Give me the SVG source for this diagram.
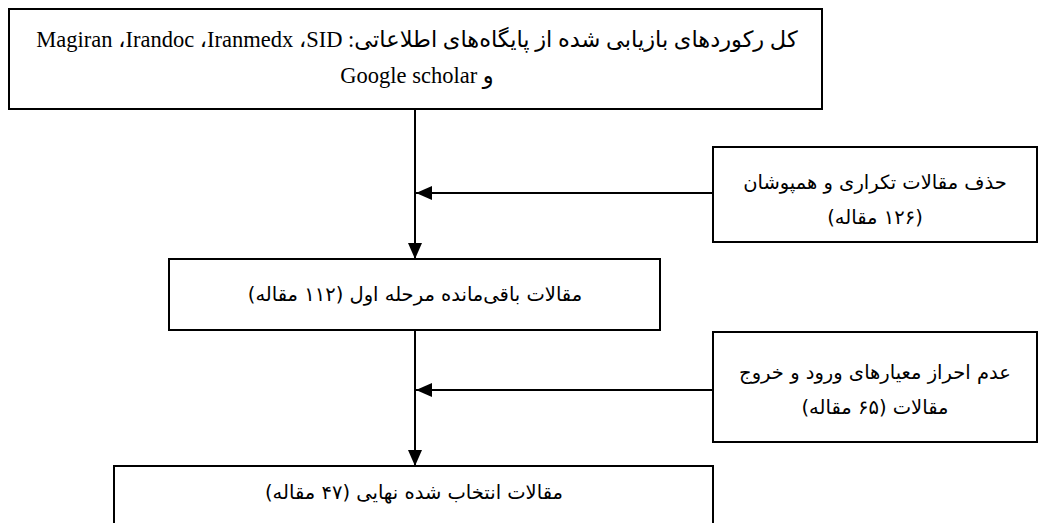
<svg xmlns="http://www.w3.org/2000/svg" width="1042" height="523" viewBox="0 0 1042 523">
<style>
.box{fill:#fff;stroke:#000;stroke-width:2}
.t{font-family:"Liberation Serif","DejaVu Sans",serif;font-size:22.5px;fill:#000;text-anchor:middle;direction:rtl;unicode-bidi:embed}
.fa{font-family:"DejaVu Sans","Liberation Serif",sans-serif;font-size:19.5px;fill:#000;text-anchor:middle;direction:rtl;unicode-bidi:embed}
.ln{stroke:#000;stroke-width:2;fill:none}
</style>
<defs>
<marker id="ah" viewBox="0 0 16 14" refX="16" refY="7" markerWidth="16" markerHeight="14" markerUnits="userSpaceOnUse" orient="auto">
<path d="M0,0 L16,7 L0,14 Z" fill="#000"/>
</marker>
</defs>
<g id="connectors">
<line class="ln" x1="415" y1="110" x2="415" y2="259" marker-end="url(#ah)"/>
<line class="ln" x1="713" y1="193" x2="416" y2="193" marker-end="url(#ah)"/>
<line class="ln" x1="415" y1="330" x2="415" y2="466" marker-end="url(#ah)"/>
<line class="ln" x1="713" y1="390" x2="416" y2="390" marker-end="url(#ah)"/>
</g>
<g id="n1">
<rect class="box" x="9" y="9" width="813" height="100"/>
<text class="t" x="417" y="47">کل رکوردهای بازیابی شده از پایگاه‌های اطلاعاتی: SID&#x200F;، Iranmedx&#x200F;، Irandoc&#x200F;، Magiran</text>
<text class="t" x="417" y="83">و Google scholar</text>
</g>
<g id="n2">
<rect class="box" x="713" y="147" width="324" height="95"/>
<text class="fa" x="875" y="189">حذف مقالات تکراری و همپوشان</text>
<text class="fa" x="875" y="224">(۱۲۶ مقاله)</text>
</g>
<g id="n3">
<rect class="box" x="169" y="259" width="491" height="71"/>
<text class="fa" x="415" y="301">مقالات باقی‌مانده مرحله اول (۱۱۲ مقاله)</text>
</g>
<g id="n4">
<rect class="box" x="713" y="332" width="324" height="110"/>
<text class="fa" x="875" y="379">عدم احراز معیارهای ورود و خروج</text>
<text class="fa" x="875" y="414">مقالات (۶۵ مقاله)</text>
</g>
<g id="n5">
<rect class="box" x="114" y="466" width="599" height="70"/>
<text class="fa" x="414" y="499">مقالات انتخاب شده نهایی (۴۷ مقاله)</text>
</g>
</svg>
